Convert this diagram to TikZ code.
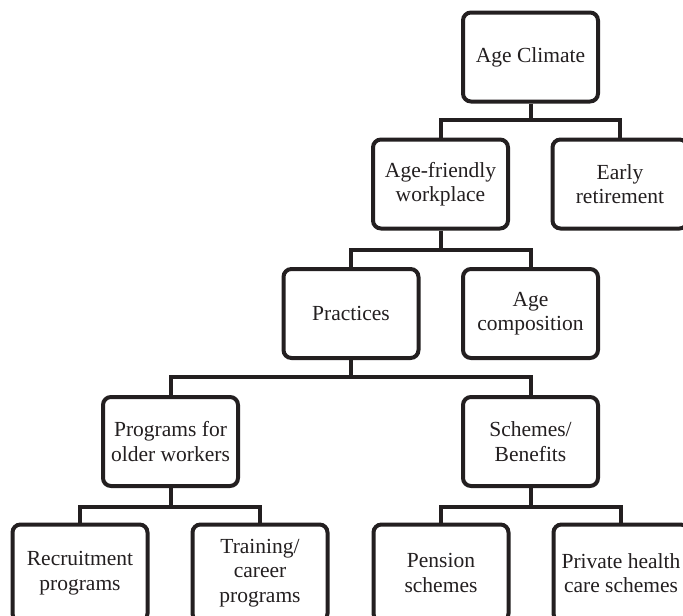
\documentclass[tikz,border=0pt]{standalone}
\usepackage{fontspec}
\setmainfont{Liberation Serif}
\definecolor{ink}{HTML}{231F20}
\begin{document}
\begin{tikzpicture}[x=1pt,y=-1pt,
  box/.style={draw=ink, line width=4pt, rounded corners=8pt, minimum width=135pt, minimum height=89pt,
    align=center, inner sep=2pt, text=ink, font=\fontsize{21.5}{24.5}\selectfont},
  lowbox/.style={box, minimum height=97pt},
  conn/.style={draw=ink, line width=4pt}]
\clip (0,0) rectangle (683,616);
\fill[white] (0,0) rectangle (683,616);
\node[box] (ac)  at (530.5,57)    {Age Climate};
\node[box] (afw) at (440.5,184)   {Age-friendly\\workplace};
\node[box] (er)  at (620,184)     {Early\\retirement};
\node[box] (pr)  at (351,313.5)   {Practices};
\node[box] (agc) at (530.5,313.5) {Age\\composition};
\node[box] (po)  at (170.5,441.5) {Programs for\\older workers};
\node[box] (sb)  at (530.5,441.5) {Schemes/\\Benefits};
\node[lowbox] (re)  at (80,573)    {Recruitment\\programs};
\node[lowbox] (tr)  at (260,573)   {Training/\\career\\programs};
\node[lowbox] (pe)  at (441,573)   {Pension\\schemes};
\node[lowbox] (ph)  at (621,573)   {Private health\\care schemes};
\coordinate (b1) at (0,120);
\coordinate (b2) at (0,250);
\coordinate (b3) at (0,377);
\coordinate (b4) at (0,507);
\draw[conn] (ac.south) -- (ac.south |- b1);
\draw[conn] (afw.north) |- (ac.south |- b1) -| (er.north);
\draw[conn] (afw.south) -- (afw.south |- b2);
\draw[conn] (pr.north) |- (afw.south |- b2) -| (agc.north);
\draw[conn] (pr.south) -- (pr.south |- b3);
\draw[conn] (po.north) |- (pr.south |- b3) -| (sb.north);
\draw[conn] (po.south) -- (po.south |- b4);
\draw[conn] (re.north) |- (po.south |- b4) -| (tr.north);
\draw[conn] (sb.south) -- (sb.south |- b4);
\draw[conn] (pe.north) |- (sb.south |- b4) -| (ph.north);
\end{tikzpicture}
\end{document}
